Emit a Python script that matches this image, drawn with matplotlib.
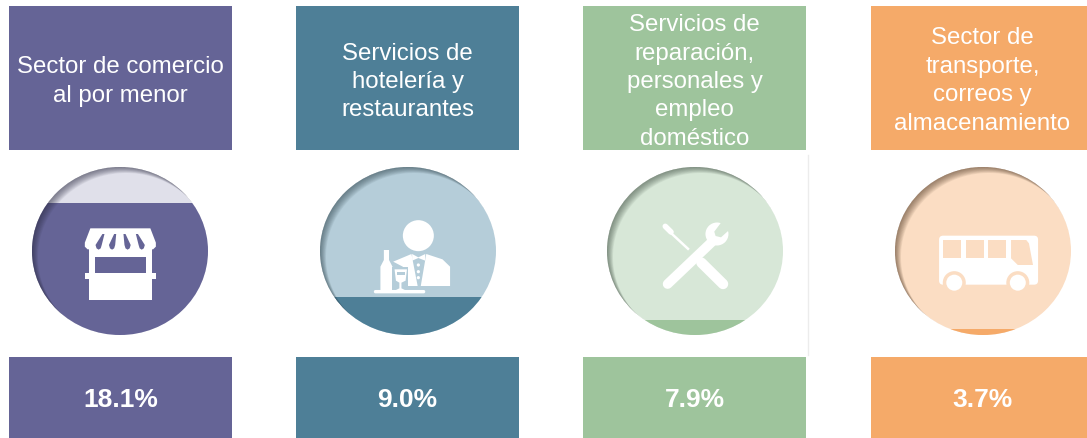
import matplotlib
matplotlib.use("Agg")
import matplotlib.pyplot as plt
import numpy as np
from matplotlib.patches import Ellipse, Rectangle, Polygon, Circle, FancyBboxPatch, PathPatch
from matplotlib.path import Path

plt.rcParams['font.family'] = ['Liberation Sans', 'DejaVu Sans']

SECTORS = ["Sector de comercio\nal por menor",
           "Servicios de\nhotelería y\nrestaurantes",
           "Servicios de\nreparación,\npersonales y\nempleo\ndoméstico",
           "Sector de\ntransporte,\ncorreos y\nalmacenamiento"]
VALUES = ["18.1%", "9.0%", "7.9%", "3.7%"]
# how far each circle is filled
FILL = [0.785, 0.226, 0.09, 0.036]
DARK = ['#656496', '#4e7f97', '#9ec49c', '#f5aa69']
LIGHT = ['#e0e0ea', '#b5cdd9', '#d7e7d7', '#fbddc3']
SHADOW = ['#2a2a40', '#2b4048', '#3b4a3e', '#4a3320']

CARD_LEFT = [9, 296, 583, 871]
CARD_W = 223
CIRCLE_X = [120, 408, 695, 983]
CIRCLE_Y = 251
RX, RY = 88, 84
TEXT_Y = [81.5, 82, 82, 81]


def icon_store(ax, cx, cy, fg, bg):
    px = lambda x, y: (cx + (x - 349) / 2.9, cy + (y - 303) / 3)
    ax.add_patch(Polygon([px(263, 235), px(437, 235), px(453, 278), px(453, 290), px(445, 298), px(255, 298), px(247, 290), px(247, 278)], color=fg, lw=0))
    ax.add_patch(Rectangle(px(258, 296), 63, 51, color=fg, lw=0))
    ax.add_patch(Rectangle(px(276, 320), 51, 17, color=bg, lw=0))
    ax.add_patch(Rectangle(px(247, 370), 71, 6, color=fg, lw=0))
    # awning stripes, narrow on top and round at the bottom
    for top, bot in [(301, 287), (335, 326), (362, 371), (398, 412)]:
        ax.add_patch(Polygon([px(top - 3, 252), px(top + 3, 252), px(bot + 9, 285), px(bot + 6, 295), px(bot, 299),
                              px(bot - 6, 295), px(bot - 9, 285)], color=bg, lw=0))


def icon_waiter(ax, cx, cy, fg, bg):
    px = lambda x, y: (cx + (x - 1185) / 2.9, cy + (y - 303) / 3)
    ax.add_patch(Circle(px(1215, 257), 15.5, color=fg, lw=0))
    ax.add_patch(Polygon([px(1142, 335), px(1195, 312), px(1213, 408), px(1170, 408), px(1170, 350)], color=fg, lw=0))
    ax.add_patch(Polygon([px(1238, 312), px(1285, 328), px(1307, 350), px(1307, 408), px(1222, 408)], color=fg, lw=0))
    ax.add_patch(Polygon([px(1197, 312), px(1215, 322), px(1235, 312), px(1235, 332), px(1215, 324), px(1197, 332)], color=fg, lw=0))
    for y in (345, 365, 383):
        ax.add_patch(Circle(px(1215, y), 1.6, color=fg, lw=0))
    ax.add_patch(Polygon([px(1115, 300), px(1130, 300), px(1130, 330), px(1140, 350), px(1140, 420),
                          px(1105, 420), px(1105, 350), px(1115, 330)], color=fg, lw=0))
    ax.add_patch(Polygon([px(1140, 352), px(1186, 352), px(1186, 420), px(1140, 420)], color=bg, lw=0))
    ax.add_patch(Polygon([px(1146, 358), px(1182, 358), px(1178, 392), px(1166, 398), px(1166, 415), px(1176, 420),
                          px(1150, 420), px(1160, 415), px(1160, 398), px(1150, 392)], color=fg, lw=0))
    ax.add_patch(Rectangle(px(1152, 367), 8, 3, color=bg, lw=0))
    ax.add_patch(FancyBboxPatch(px(1088, 422), 50, 2, boxstyle="round,pad=0,rounding_size=1", fc=fg, ec=fg, lw=1))


def icon_tools(ax, cx, cy, fg, bg):
    px = lambda x, y: (cx + (x - 401) / 2.96, cy + (y - 303) / 3)
    ax.plot(*zip(px(484, 402), px(420, 338)), color=fg, lw=7.5, solid_capstyle='round')
    ax.plot(*zip(px(316, 236), px(383, 299)), color=fg, lw=1.8, solid_capstyle='butt')
    ax.plot(*zip(px(313, 229), px(330, 246)), color=fg, lw=4, solid_capstyle='round')
    ax.plot(*zip(px(320, 402), px(455, 272)), color=fg, lw=7, solid_capstyle='round')
    ax.add_patch(Circle(px(466, 252), 11.5, color=fg, lw=0))
    ax.add_patch(Polygon([px(458, 245), px(478, 218), px(510, 218), px(500, 242), px(478, 262), px(462, 258)], color=bg, lw=0))
    ax.add_patch(Circle(px(320, 402), 1.5, color=bg, lw=0))


def icon_bus(ax, cx, cy, fg, bg):
    px = lambda x, y: (cx + (x - 1257) / 2.96, cy + (y - 303) / 3)
    ax.add_patch(FancyBboxPatch(px(1127, 257), 99, 49, boxstyle="round,pad=0,rounding_size=4", fc=fg, ec='none'))
    for x in (1140, 1206, 1272):
        ax.add_patch(Rectangle(px(x, 270), 18, 18, color=bg, lw=0))
    ax.add_patch(Polygon([px(1340, 270), px(1385, 270), px(1393, 280), px(1405, 345), px(1360, 345), px(1340, 325)], color=bg, lw=0))
    for x in (1172, 1360):
        ax.add_patch(Circle(px(x, 398), 11.5, color=bg, lw=0))
        ax.add_patch(Circle(px(x, 398), 8, color=fg, lw=0))


ICONS = [icon_store, icon_waiter, icon_tools, icon_bus]


def ellipse_path(cx, cy, rx, ry, reverse=False):
    t = np.linspace(0, 2 * np.pi, 200)
    if reverse:
        t = t[::-1]
    return np.c_[cx + rx * np.cos(t), cy + ry * np.sin(t)]


fig = plt.figure(figsize=(10.87, 4.38), dpi=100)
ax = fig.add_axes([0, 0, 1, 1])
ax.set_xlim(0, 1087)
ax.set_ylim(438, 0)
ax.axis('off')

for i in range(4):
    left = CARD_LEFT[i]
    mid = left + CARD_W / 2
    ax.add_patch(Rectangle((left, 6), CARD_W, 144, color=DARK[i], lw=0))
    ax.add_patch(Rectangle((left, 357), CARD_W, 81, color=DARK[i], lw=0))
    ax.text(mid, TEXT_Y[i], SECTORS[i], color='white', fontsize=17.3, ha='center', va='center',
            linespacing=1.38)
    ax.text(mid, 400, VALUES[i], color='white', fontsize=19, fontweight='bold', ha='center', va='center')

    # circle, pale above the level and solid below it
    cx = CIRCLE_X[i]
    clip = Ellipse((cx, CIRCLE_Y), 2 * RX, 2 * RY, color=LIGHT[i], lw=0)
    ax.add_patch(clip)
    level = CIRCLE_Y + RY - 2 * RY * FILL[i]
    fill = Rectangle((cx - RX, level), 2 * RX, CIRCLE_Y + RY - level, color=DARK[i], lw=0)
    ax.add_patch(fill)
    fill.set_clip_path(clip)

    ICONS[i](ax, cx, CIRCLE_Y, 'white', DARK[i] if i == 0 else LIGHT[i])

    # inner shadow from the top left
    for off in np.linspace(0.5, 6, 10):
        verts = np.r_[ellipse_path(cx, CIRCLE_Y, RX + 4, RY + 4),
                      ellipse_path(cx + off, CIRCLE_Y + off, RX, RY, reverse=True)]
        codes = [Path.LINETO] * len(verts)
        codes[0] = Path.MOVETO
        codes[200] = Path.MOVETO
        ring = PathPatch(Path(verts, codes), fc=SHADOW[i], ec='none', alpha=0.07)
        ax.add_patch(ring)
        ring.set_clip_path(clip)

ax.plot([807.5, 807.5], [155, 355], color='#ececec', lw=1)

fig.savefig("out.png", dpi=100)
